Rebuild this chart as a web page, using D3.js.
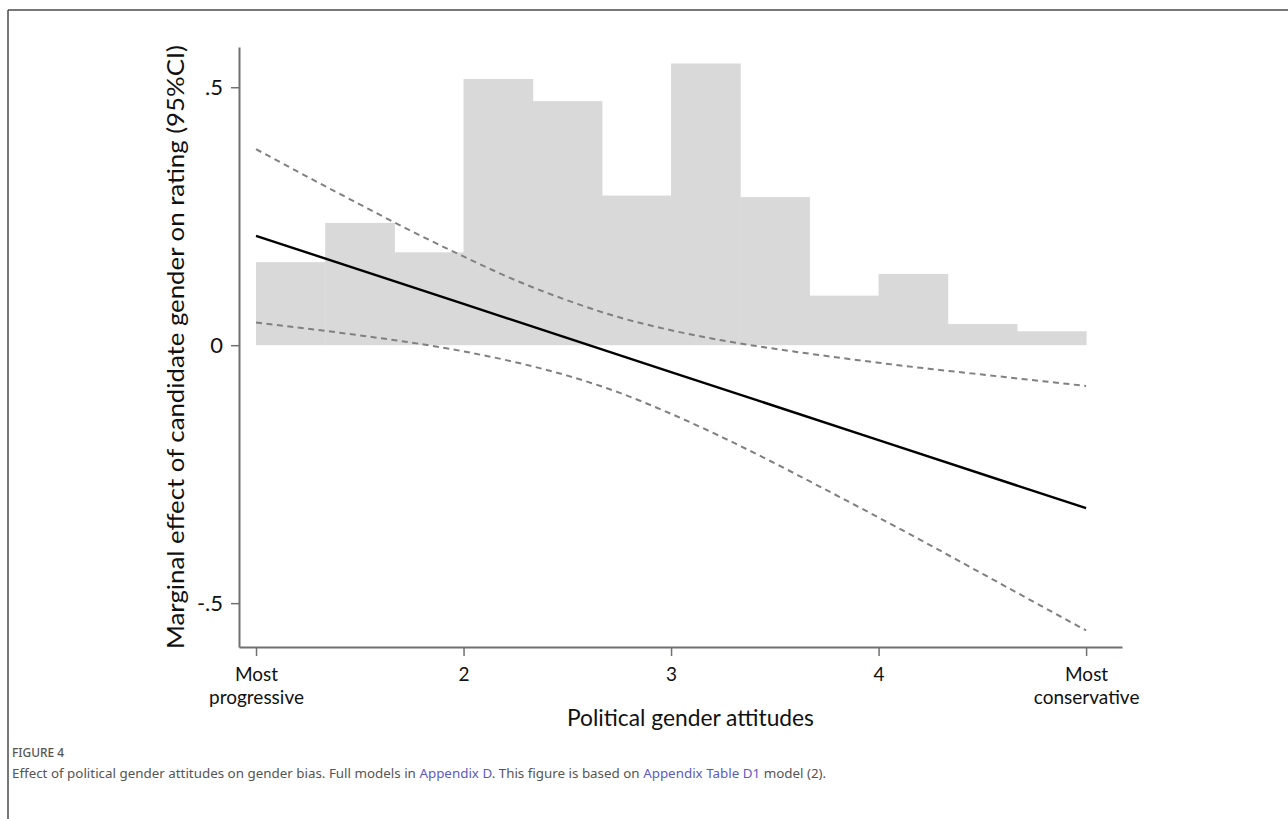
<!DOCTYPE html>
<html>
<head>
<meta charset="utf-8">
<script src="https://cdn.jsdelivr.net/npm/d3@7"></script>
<style>
  html, body { margin: 0; padding: 0; background: #fff; }
  svg { display: block; }
</style>
</head>
<body>
<svg id="fig" width="1288" height="819"></svg>
<script>
// Histogram of political gender attitudes (bin edges and bar heights on the effect scale)
const binEdges = [1, 1.3333, 1.6667, 2, 2.3333, 2.6667, 3, 3.3333, 3.6667, 4, 4.3333, 4.6667, 5];
const binHeights = [0.161, 0.237, 0.180, 0.516, 0.473, 0.290, 0.546, 0.287, 0.096, 0.138, 0.041, 0.027];

// Marginal effect of candidate gender (linear fit)
const fitX = [1, 2, 3, 4, 5];
const fitY = [0.212, 0.080, -0.052, -0.184, -0.316];

// 95% confidence bounds
const ciX = [1, 1.25, 1.5, 1.75, 2, 2.25, 2.5, 2.75, 3, 3.25, 3.5, 3.75, 4, 4.25, 4.5, 4.75, 5];
const ciUpper = [0.380, 0.326, 0.273, 0.221, 0.172, 0.126, 0.087, 0.054, 0.029, 0.009, -0.007, -0.021, -0.034, -0.046, -0.057, -0.068, -0.079];
const ciLower = [0.044, 0.032, 0.019, 0.005, -0.012, -0.033, -0.059, -0.092, -0.133, -0.179, -0.229, -0.281, -0.334, -0.388, -0.443, -0.498, -0.553];

// Axis ticks
const xTickValues = [1, 2, 3, 4, 5];
const xTickLabels = [["Most", "progressive"], ["2"], ["3"], ["4"], ["Most", "conservative"]];
const yTickValues = [-0.5, 0, 0.5];
const yTickLabels = ["-.5", "0", ".5"];

const xTitle = "Political gender attitudes";
const yTitle = "Marginal effect of candidate gender on rating (95%CI)";

const svg = d3.select("#fig");
const font = "Lato, 'Open Sans', sans-serif";

// Frame lines along top and left edge of the figure panel
svg.append("line").attr("x1", 8).attr("x2", 1288).attr("y1", 10).attr("y2", 10)
  .attr("stroke", "#4a4a4a").attr("stroke-width", 1.5);
svg.append("line").attr("x1", 8).attr("x2", 8).attr("y1", 10).attr("y2", 819)
  .attr("stroke", "#4a4a4a").attr("stroke-width", 1.5);

// Plot region
const x = d3.scaleLinear().domain([0.918, 5.173]).range([239, 1122]);
const y = d3.scaleLinear().domain([-0.585, 0.578]).range([647, 47]);

const plot = svg.append("g");

// Histogram bars
plot.selectAll("rect.bin")
  .data(binHeights)
  .join("rect")
  .attr("class", "bin")
  .attr("x", (d, i) => x(binEdges[i]))
  .attr("width", (d, i) => x(binEdges[i + 1]) - x(binEdges[i]) + 0.5)
  .attr("y", d => y(d))
  .attr("height", d => y(0) - y(d))
  .attr("fill", "#d9d9d9");

// Confidence bounds
const ciLine = d3.line().x(d => x(d[0])).y(d => y(d[1])).curve(d3.curveMonotoneX);
[ciUpper, ciLower].forEach(series => {
  plot.append("path")
    .datum(ciX.map((v, i) => [v, series[i]]))
    .attr("d", ciLine)
    .attr("fill", "none")
    .attr("stroke", "#808080")
    .attr("stroke-width", 2)
    .attr("stroke-dasharray", "6,4.5");
});

// Point estimate
plot.append("path")
  .datum(fitX.map((v, i) => [v, fitY[i]]))
  .attr("d", d3.line().x(d => x(d[0])).y(d => y(d[1])))
  .attr("fill", "none")
  .attr("stroke", "#000")
  .attr("stroke-width", 2.4);

// Axes
const axisColor = "#707070";
const yAxis = svg.append("g")
  .attr("transform", `translate(${x.range()[0]},0)`)
  .call(d3.axisLeft(y).tickValues(yTickValues)
    .tickFormat((d, i) => yTickLabels[i]).tickSize(8).tickSizeOuter(0).tickPadding(8));
yAxis.select(".domain").attr("stroke", axisColor).attr("stroke-width", 2);
yAxis.selectAll(".tick line").attr("stroke", axisColor).attr("stroke-width", 1.5);
yAxis.selectAll(".tick text").attr("font-family", font).attr("font-size", 22).attr("fill", "#111");

const xAxis = svg.append("g")
  .attr("transform", `translate(0,${y.range()[0]})`)
  .call(d3.axisBottom(x).tickValues(xTickValues).tickFormat("").tickSize(9).tickSizeOuter(0));
xAxis.select(".domain").attr("stroke", axisColor).attr("stroke-width", 2);
xAxis.selectAll(".tick line").attr("stroke", axisColor).attr("stroke-width", 1.5);

// Tick labels, one text element per line
xAxis.selectAll(".tick").each(function (d, i) {
  const g = d3.select(this);
  xTickLabels[i].forEach((line, k) => {
    g.append("text")
      .attr("font-family", font).attr("font-size", 19).attr("fill", "#111")
      .attr("text-anchor", "middle")
      .attr("x", 0).attr("y", 34 + k * 23)
      .text(line);
  });
});

// Axis titles
svg.append("text")
  .attr("x", (x.range()[0] + x.range()[1]) / 2 + 10)
  .attr("y", 726)
  .attr("text-anchor", "middle")
  .attr("font-family", font).attr("font-size", 24).attr("fill", "#111")
  .attr("textLength", 247).attr("lengthAdjust", "spacingAndGlyphs")
  .text(xTitle);

svg.append("text")
  .attr("transform", `translate(184,${(y.range()[0] + y.range()[1]) / 2}) rotate(-90)`)
  .attr("text-anchor", "middle")
  .attr("font-family", font).attr("font-size", 24).attr("fill", "#111")
  .attr("textLength", 604).attr("lengthAdjust", "spacingAndGlyphs")
  .text(yTitle);

// Caption
const capFont = "'Noto Sans', 'Open Sans', sans-serif";
svg.append("text")
  .attr("x", 12).attr("y", 757)
  .attr("font-family", capFont).attr("font-size", 12).attr("font-weight", 500).attr("fill", "#555")
  .attr("textLength", 52).attr("lengthAdjust", "spacingAndGlyphs")
  .text("FIGURE 4");

const captionParts = [
  { t: "Effect of political gender attitudes on gender bias. Full models in ", link: false },
  { t: "Appendix D", link: true },
  { t: ". This figure is based on ", link: false },
  { t: "Appendix Table D1", link: true },
  { t: " model (2).", link: false }
];
const cap = svg.append("text")
  .attr("x", 12).attr("y", 778)
  .attr("font-family", capFont).attr("font-size", 14).attr("fill", "#555");
captionParts.forEach(p => {
  cap.append("tspan").attr("fill", p.link ? "#5a5cc0" : "#555").text(p.t);
});
// Size the caption so the sentence spans its column width
const capWidth = cap.node().getComputedTextLength();
cap.attr("font-size", 14 * 815 / capWidth);
</script>
</body>
</html>
